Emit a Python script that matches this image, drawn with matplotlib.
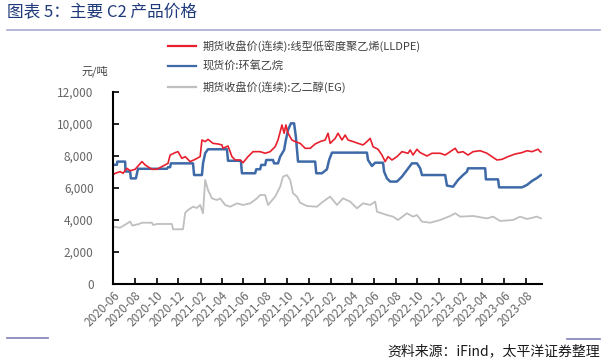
import matplotlib
matplotlib.use("Agg")
import matplotlib.pyplot as plt
import matplotlib.dates as mdates
from matplotlib.lines import Line2D
from matplotlib.ticker import FuncFormatter
import pandas as pd

plt.rcParams['font.family'] = ['Noto Sans CJK SC', 'DejaVu Sans']

# LLDPE futures (continuous), yuan/ton
lldpe_dates = ["2020-06-01", "2020-06-07", "2020-06-21", "2020-06-29", "2020-07-10", "2020-07-19",
               "2020-08-02", "2020-08-21", "2020-08-30", "2020-09-18", "2020-10-02", "2020-10-19",
               "2020-11-02", "2020-11-08", "2020-11-22", "2020-11-30", "2020-12-11", "2020-12-20",
               "2021-01-03", "2021-01-17", "2021-01-31", "2021-02-05", "2021-02-14", "2021-02-22",
               "2021-03-08", "2021-03-22", "2021-04-02", "2021-04-05", "2021-04-19", "2021-04-30",
               "2021-05-09", "2021-05-23", "2021-05-31", "2021-06-14", "2021-06-28", "2021-07-18",
               "2021-08-01", "2021-08-15", "2021-08-29", "2021-09-06", "2021-09-17", "2021-09-23",
               "2021-09-28", "2021-10-04", "2021-10-15", "2021-10-24", "2021-11-07", "2021-11-21",
               "2021-12-05", "2021-12-19", "2022-01-02", "2022-01-16", "2022-01-24", "2022-01-30",
               "2022-02-13", "2022-02-21", "2022-03-04", "2022-03-13", "2022-03-21", "2022-04-04",
               "2022-04-18", "2022-05-02", "2022-05-13", "2022-05-22", "2022-05-30", "2022-06-13",
               "2022-06-24", "2022-07-03", "2022-07-11", "2022-07-22", "2022-08-05", "2022-08-19",
               "2022-09-05", "2022-09-11", "2022-09-19", "2022-09-30", "2022-10-09", "2022-10-28",
               "2022-11-11", "2022-12-04", "2022-12-18", "2023-01-01", "2023-01-15", "2023-01-23",
               "2023-02-06", "2023-02-20", "2023-03-06", "2023-03-26", "2023-04-14", "2023-04-28",
               "2023-05-12", "2023-05-26", "2023-06-12", "2023-07-02", "2023-07-21", "2023-08-04",
               "2023-08-18", "2023-09-04", "2023-09-10", "2023-09-12"]
lldpe_vals = [6810, 6920, 7020, 6920, 7230, 7080,
              7170, 7650, 7440, 7170, 7170, 7375,
              7540, 8060, 8210, 8270, 7850, 7960,
              7650, 7790, 7960, 9000, 8900, 9040,
              8790, 8750, 8690, 8480, 8625, 7960,
              7750, 7750, 7580, 7960, 8270, 8270,
              8170, 8270, 8580, 9000, 9940, 9420,
              9940, 9420, 9000, 8900, 8790, 8480,
              8480, 8750, 8900, 9000, 9420, 8790,
              9100, 9420, 9000, 9310, 9000, 8900,
              8790, 8690, 8900, 9100, 8580, 8420,
              8060, 7650, 7960, 7750, 7960, 8270,
              8170, 8375, 8060, 8420, 8210, 8000,
              8170, 8170, 8060, 8270, 8480, 8210,
              8270, 8060, 8270, 8330, 8170, 7960,
              7750, 7790, 7960, 8125, 8210, 8330,
              8270, 8420, 8270, 8250]

# Ethylene oxide spot price
eo_dates = ["2020-06-01", "2020-06-12", "2020-06-13", "2020-07-05", "2020-07-06", "2020-07-19",
            "2020-07-21", "2020-08-04", "2020-08-10", "2020-10-30", "2020-11-02", "2020-11-08",
            "2020-11-10", "2021-01-11", "2021-01-14", "2021-02-05", "2021-02-08", "2021-02-14",
            "2021-02-22", "2021-04-16", "2021-04-19", "2021-05-25", "2021-05-28", "2021-07-04",
            "2021-07-07", "2021-07-18", "2021-07-21", "2021-08-01", "2021-08-04", "2021-08-23",
            "2021-08-26", "2021-09-06", "2021-09-12", "2021-09-23", "2021-09-28", "2021-10-04",
            "2021-10-12", "2021-10-21", "2021-10-26", "2021-11-01", "2021-12-19", "2021-12-22",
            "2022-01-07", "2022-01-21", "2022-01-27", "2022-02-04", "2022-05-13", "2022-05-16",
            "2022-05-27", "2022-06-05", "2022-06-27", "2022-06-30", "2022-07-08", "2022-07-17",
            "2022-08-05", "2022-08-19", "2022-09-02", "2022-09-16", "2022-09-30", "2022-10-09",
            "2022-10-14", "2022-12-18", "2022-12-23", "2023-01-09", "2023-01-23", "2023-02-06",
            "2023-02-17", "2023-02-20", "2023-04-09", "2023-04-11", "2023-05-15", "2023-05-18",
            "2023-07-21", "2023-08-04", "2023-08-18", "2023-09-01", "2023-09-12"]
eo_vals = [7450, 7450, 7650, 7650, 7030, 7030,
           6600, 6600, 7200, 7200, 7300, 7300,
           7540, 7540, 6810, 6810, 7540, 8170,
           8420, 8420, 7700, 7700, 6920, 6920,
           7170, 7170, 7440, 7440, 7750, 7750,
           7540, 7540, 7960, 8375, 9000, 9625,
           10040, 10040, 9200, 7650, 7650, 6920,
           6920, 7170, 7750, 8210, 8210, 7750,
           7375, 7580, 7580, 7020, 6600, 6400,
           6400, 6710, 7125, 7540, 7540, 7230,
           6810, 6810, 6150, 6080, 6500, 6810,
           7020, 7230, 7230, 6540, 6540, 6040,
           6040, 6190, 6440, 6625, 6810]

# Ethylene glycol futures (continuous)
eg_dates = ["2020-06-01", "2020-06-21", "2020-07-19", "2020-07-25", "2020-08-13", "2020-08-21",
            "2020-09-18", "2020-09-21", "2020-10-02", "2020-11-13", "2020-11-16", "2020-12-14",
            "2020-12-20", "2020-12-28", "2021-01-11", "2021-01-22", "2021-01-31", "2021-02-08",
            "2021-02-14", "2021-02-22", "2021-03-05", "2021-03-19", "2021-03-28", "2021-04-11",
            "2021-04-25", "2021-05-14", "2021-05-31", "2021-06-20", "2021-07-09", "2021-07-18",
            "2021-08-01", "2021-08-09", "2021-08-29", "2021-09-12", "2021-09-20", "2021-10-01",
            "2021-10-10", "2021-10-18", "2021-10-29", "2021-11-07", "2021-11-26", "2021-12-24",
            "2022-01-10", "2022-01-30", "2022-02-18", "2022-03-07", "2022-03-27", "2022-04-15",
            "2022-05-02", "2022-05-22", "2022-06-05", "2022-06-10", "2022-07-08", "2022-07-25",
            "2022-08-08", "2022-09-02", "2022-09-19", "2022-09-30", "2022-10-14", "2022-11-06",
            "2022-12-04", "2023-01-01", "2023-01-15", "2023-01-29", "2023-03-06", "2023-04-14",
            "2023-05-01", "2023-05-21", "2023-06-26", "2023-07-16", "2023-08-04", "2023-09-01",
            "2023-09-12"]
eg_vals = [3580, 3520, 3900, 3650, 3750, 3830,
           3830, 3690, 3750, 3750, 3420, 3420,
           4440, 4625, 4830, 4750, 4940, 4420,
           6500, 5875, 5350, 5250, 5350, 4940,
           4830, 5040, 4940, 5040, 5350, 5560,
           5560, 4940, 5460, 6080, 6710, 6810,
           6500, 5670, 5460, 5080, 4875, 4830,
           5150, 5460, 4940, 5350, 5150, 4730,
           5040, 4940, 5150, 4520, 4310, 4210,
           4000, 4420, 4210, 4310, 3900, 3830,
           4000, 4250, 4420, 4210, 4250, 4100,
           4210, 3940, 4000, 4210, 4060, 4210,
           4100]

labels = ["期货收盘价(连续):线型低密度聚乙烯(LLDPE)", "现货价:环氧乙烷", "期货收盘价(连续):乙二醇(EG)"]
colors = ["#e8202e", "#3e6aa8", "#bfbfbf"]

fig = plt.figure(figsize=(6.03, 3.61), dpi=100)
ax = fig.add_axes([0.1874, 0.2133, 0.7114, 0.5319])

ax.plot(pd.to_datetime(eg_dates), eg_vals, color=colors[2], lw=1.3)
ax.plot(pd.to_datetime(eo_dates), eo_vals, color=colors[1], lw=1.8)
ax.plot(pd.to_datetime(lldpe_dates), lldpe_vals, color=colors[0], lw=1.2)

ax.set_ylim(0, 12000)
ax.set_xlim(pd.Timestamp("2020-06-01"), pd.Timestamp("2023-09-15"))
ax.set_yticks(range(0, 12001, 2000))
ax.yaxis.set_major_formatter(FuncFormatter(lambda v, p: f"{int(v):,}"))
ax.xaxis.set_major_locator(mdates.MonthLocator(bymonth=[2, 4, 6, 8, 10, 12]))
ax.xaxis.set_major_formatter(mdates.DateFormatter("%Y-%m"))
ax.tick_params(axis='both', direction='in', length=4, width=1.2, colors='black',
               labelcolor='#666666', labelsize=8.5)
ax.tick_params(axis='y', pad=14)
for lab in ax.get_xticklabels():
    lab.set_rotation(45)
    lab.set_ha('right')
    lab.set_rotation_mode('anchor')
for s in ['top', 'right']:
    ax.spines[s].set_visible(False)
for s in ['left', 'bottom']:
    ax.spines[s].set_linewidth(1.5)

fig.text(0.158, 0.802, "元/吨", fontsize=8, color='#404040', ha='center', va='center')

handles = [Line2D([], [], color=c, lw=1.6) for c in colors]
fig.legend(handles, labels, loc='upper left', bbox_to_anchor=(0.262, 0.918), frameon=False,
           fontsize=8, handlelength=2.5, handletextpad=0.6, labelspacing=0.85,
           labelcolor='#404040')

# title and frame lines
fig.text(0.012, 0.965, "图表 5：主要 C2 产品价格", fontsize=12, color='#1f3a7a',
         ha='left', va='center')
fig.add_artist(Line2D([0.012, 0.995], [0.918, 0.918], color='#a9a9d4', lw=1.2))
fig.add_artist(Line2D([0.012, 0.08], [0.065, 0.065], color='#7f7fb5', lw=1.2))
fig.add_artist(Line2D([0.94, 0.995], [0.06, 0.06], color='#7f7fb5', lw=1.2))
fig.text(0.995, 0.028, "资料来源：iFind，太平洋证券整理", fontsize=10, style='italic',
         color='#1a1a1a', ha='right', va='center')

fig.savefig("out.png", dpi=100)
